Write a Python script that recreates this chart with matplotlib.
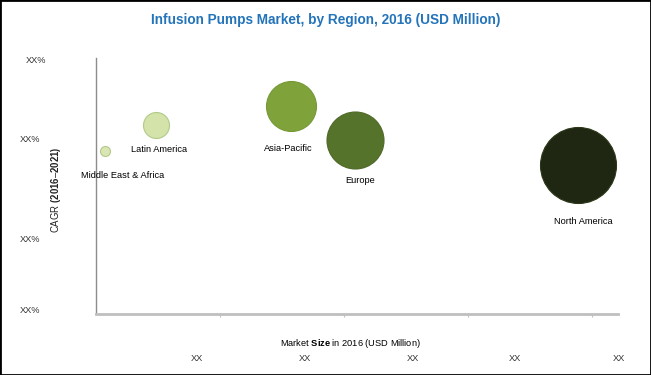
import matplotlib
matplotlib.use("Agg")
import matplotlib.pyplot as plt
from matplotlib.patches import Rectangle

plt.rcParams["font.family"] = ["Liberation Sans", "DejaVu Sans"]
plt.rcParams["mathtext.fontset"] = "custom"
plt.rcParams["mathtext.rm"] = "Liberation Sans"
plt.rcParams["mathtext.bf"] = "Liberation Sans:bold"

# bubble data (x = market size, y = CAGR, size = bubble radius in px)
regions = ["Middle East & Africa", "Latin America", "Asia-Pacific", "Europe", "North America"]
market_size = [0.07, 0.48, 1.57, 2.09, 3.89]
cagr = [63.7, 73.8, 81.3, 68.0, 58.2]
bubble_radius = [5, 13, 25, 28.5, 38]
colors = ["#D9E6B4", "#D3E3A9", "#7FA23B", "#56732B", "#1F2713"]
edge_colors = ["#B5C98A", "#B3C98A", "#769936", "#4E6927", "#2C3819"]

# label offsets relative to bubble centre (px)
label_offsets = [(18, -25), (4, -24), (-2, -43), (5, -41), (5, -56)]

x_ticks = [1, 2, 3, 4]
x_tick_labels = ["XX", "XX", "XX", "XX", "XX"]
x_label_pos = [0.815, 1.685, 2.556, 3.379, 4.218]
y_tick_labels = ["XX%", "XX%", "XX%", "XX%"]
y_label_pos = [99, 68, 29, 1.5]

fig = plt.figure(figsize=(6.51, 3.75), dpi=100)
ax = fig.add_axes([96 / 651, 1 - 314 / 375, 522 / 651, 256 / 375])
ax.set_xlim(0, 522 / 124)
ax.set_ylim(0, 100)

for i, name in enumerate(regions):
    d = 2 * bubble_radius[i] * 72 / 100
    ax.scatter(market_size[i], cagr[i], s=d ** 2, color=colors[i],
               edgecolors=edge_colors[i], linewidths=0.8, zorder=3)
    dx, dy = label_offsets[i]
    ax.annotate(name, (market_size[i], cagr[i]), xytext=(dx * 0.72, dy * 0.72),
                textcoords="offset points", ha="center", va="center",
                fontsize=6.7, color="black")

for side in ["top", "right"]:
    ax.spines[side].set_visible(False)
ax.spines["left"].set_color("#8C8C8C")
ax.spines["left"].set_linewidth(1.0)
ax.spines["bottom"].set_color("#BFBFBF")
ax.spines["bottom"].set_linewidth(2.0)
ax.set_xticks(x_ticks)
ax.set_xticklabels([])
ax.tick_params(axis="x", length=2, color="#BFBFBF", direction="out")
ax.set_yticks([])

for x, lab in zip(x_label_pos, x_tick_labels):
    ax.text(x, -0.172, lab, transform=ax.get_xaxis_transform(),
            ha="center", va="center", fontsize=6.7, color="#333333")

y_label_x = [-0.096, -0.107, -0.107, -0.107]
for x, y, lab in zip(y_label_x, y_label_pos, y_tick_labels):
    ax.text(x, y, lab, transform=ax.get_yaxis_transform(),
            ha="right", va="center", fontsize=6.7, color="#333333")

ax.text(0.487, -0.117, r"Market $\bf{Size}$ in 2016 (USD Million)",
        transform=ax.transAxes, ha="center", va="center", fontsize=6.7)
ax.text(-0.077, 0.484, r"CAGR $\bf{(2016\text{–}2021)}$",
        transform=ax.transAxes, ha="center", va="center", fontsize=6.9,
        rotation=90, color="#222222")

fig.text(0.5, 1 - 20 / 375, "Infusion Pumps Market, by Region, 2016 (USD Million)",
         ha="center", va="center", fontsize=9.8, fontweight="bold",
         color="#2474BA")

fig.add_artist(Rectangle((0, 0), 1, 1, transform=fig.transFigure, fill=False,
                         edgecolor="black", linewidth=2))

fig.savefig("out.png", dpi=100)
